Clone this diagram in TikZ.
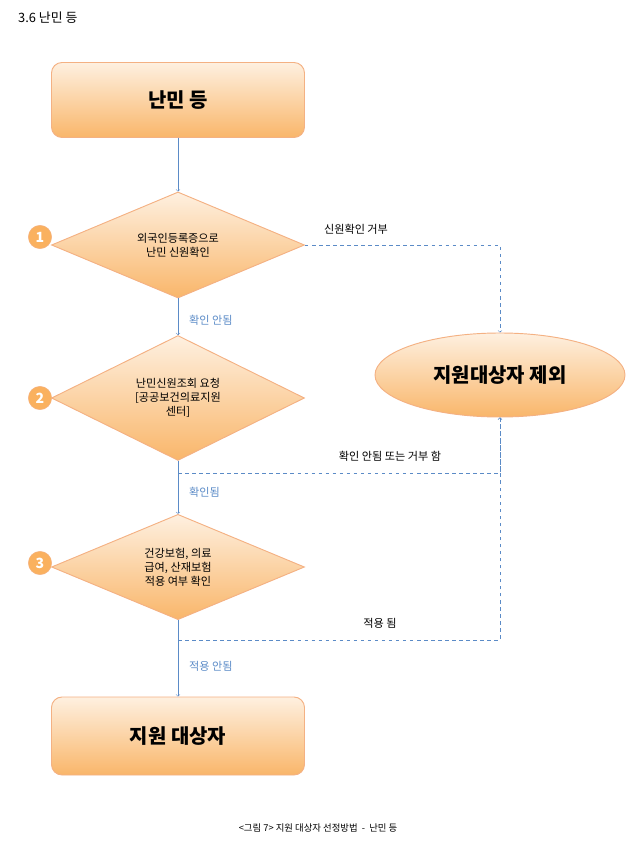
\documentclass[tikz,border=0pt]{standalone}
\usepackage{fontspec}
\setmainfont{Noto Sans CJK KR}
\usetikzlibrary{shapes.geometric}
\definecolor{edgeorange}{HTML}{F4B183}
\definecolor{lightorange}{HTML}{FEF0E0}
\definecolor{darkorange}{HTML}{F9B66A}
\definecolor{flowblue}{HTML}{5B8BC7}
\begin{document}
\begin{tikzpicture}[x=0.03cm,y=-0.03cm]
  \tikzstyle{startbox}=[rectangle, rounded corners=9pt, draw=edgeorange, thick, top color=lightorange, bottom color=darkorange, minimum width=253*0.03cm, font=\fontsize{17}{20}\selectfont\bfseries]
  \tikzstyle{decision}=[diamond, draw=edgeorange, thick, top color=lightorange, bottom color=darkorange, minimum width=253*0.03cm, align=center, inner sep=0pt, font=\fontsize{9.5}{12}\selectfont]
  \tikzstyle{numdot}=[circle, draw=edgeorange, fill=darkorange!90!orange, text=white, font=\bfseries\large, minimum size=7mm, inner sep=0pt]
  \tikzstyle{connect}=[->, flowblue]
  \tikzstyle{refuse}=[->, flowblue, dashed]
  \tikzstyle{lbl}=[font=\fontsize{9.5}{11}\selectfont]

  \useasboundingbox (0,0) rectangle (636,852);
  \node[anchor=west, font=\fontsize{11}{13}\selectfont] (title) at (14,18) {3.6 난민 등};

  \node[startbox, minimum height=75*0.03cm] (refugee) at (178,100) {난민 등};
  \node[decision, minimum height=80*0.03cm] (d1) at (178,245) {외국인등록증으로\\난민 신원확인};
  \node[decision, minimum height=105*0.03cm] (d2) at (178,398) {난민신원조회 요청\\{[공공보건의료지원}\\센터{]}};
  \node[decision, minimum height=90*0.03cm] (d3) at (178,567) {건강보험, 의료\\급여, 산재보험\\적용 여부 확인};
  \node[startbox, minimum height=78*0.03cm] (target) at (178,736) {지원 대상자};
  \node[ellipse, draw=edgeorange, thick, top color=lightorange, bottom color=darkorange, minimum width=250*0.03cm, minimum height=84*0.03cm, font=\fontsize{17}{20}\selectfont\bfseries] (exclude) at (500,375) {지원대상자 제외};

  \node[numdot] (n1) at (40,237) {1};
  \node[numdot] (n2) at (40,398) {2};
  \node[numdot] (n3) at (40,563) {3};

  \coordinate (c1) at (500,245);
  \coordinate (c2a) at (178,473);
  \coordinate (c2b) at (500,473);
  \coordinate (c3a) at (178,640);
  \coordinate (c3b) at (500,640);

  \draw[connect] (refugee) -- (d1);
  \draw[connect] (d1) -- node[lbl, right=6pt, pos=0.6] {확인 안됨} (d2);
  \draw[connect] (d2) -- node[lbl, right=6pt, pos=0.6] {확인됨} (d3);
  \draw[connect] (d3) -- node[lbl, right=6pt, pos=0.6] {적용 안됨} (target);

  \draw[refuse] (d1.east) -- (c1) -- (exclude.north);
  \draw[refuse] (c2a) -- (c2b) -- (exclude.south);
  \draw[refuse] (c3a) -- (c3b) -- (exclude.south);

  \node[lbl] (l1) at (356,229) {신원확인 거부};
  \node[lbl] (l2) at (390,456) {확인 안됨 또는 거부 함};
  \node[lbl] (l3) at (380,623) {적용 됨};

  \node[font=\fontsize{8}{10}\selectfont] (caption) at (318,828) {<그림 7> 지원 대상자 선정방법 \ - \ 난민 등};
\end{tikzpicture}
\end{document}
